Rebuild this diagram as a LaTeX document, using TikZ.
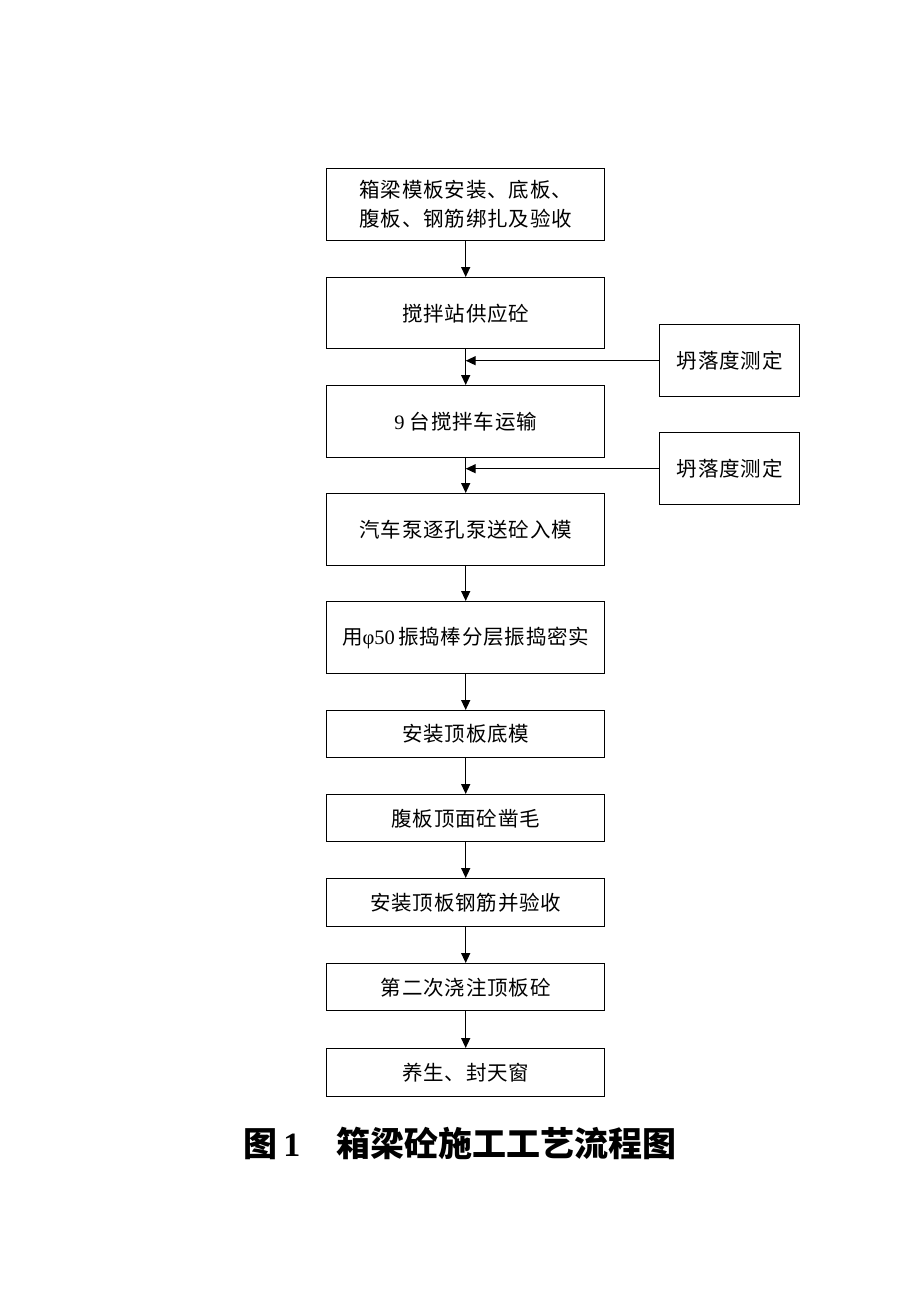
\documentclass[tikz,border=0pt]{standalone}
\usepackage{fontspec}
\setmainfont{Liberation Serif}
\newfontfamily\cjk{Noto Sans CJK SC}
\newfontfamily\cjkbox{Noto Sans CJK SC}[LetterSpace=4]
\usetikzlibrary{arrows.meta}
\begin{document}
\begin{tikzpicture}[x=1pt,y=-1pt,
  box/.style={draw,line width=1.4pt,minimum width=278pt,anchor=north west,inner sep=0pt,align=center,font=\fontsize{20.5}{29}\selectfont\cjkbox},
  sidebox/.style={draw,line width=1.4pt,minimum width=140pt,minimum height=72pt,anchor=north west,inner sep=0pt,align=center,font=\fontsize{20.5}{29}\selectfont\cjkbox},
  arr/.style={line width=1.4pt,-{Triangle[length=10pt,width=9pt]}},
  line/.style={line width=1.4pt}]
\useasboundingbox (0,0) rectangle (920,1302);
\node[box,minimum height=72pt] (b1) at (326,168) {箱梁模板安装、底板、\\腹板、钢筋绑扎及验收};
\node[box,minimum height=71pt] (b2) at (326,277) {搅拌站供应砼};
\node[box,minimum height=72pt] (b3) at (326,385) {\fontspec{Liberation Serif}9 {\cjkbox 台搅拌车运输}};
\node[box,minimum height=72pt] (b4) at (326,493) {汽车泵逐孔泵送砼入模};
\node[box,minimum height=72pt] (b5) at (326,601) {用{\fontspec{Liberation Serif}φ50\,}振捣棒分层振捣密实};
\node[box,minimum height=47pt] (b6) at (326,710) {安装顶板底模};
\node[box,minimum height=47pt] (b7) at (326,794) {腹板顶面砼凿毛};
\node[box,minimum height=48pt] (b8) at (326,878) {安装顶板钢筋并验收};
\node[box,minimum height=47pt] (b9) at (326,963) {第二次浇注顶板砼};
\node[box,minimum height=48pt] (b10) at (326,1048) {养生、封天窗};
\node[sidebox] (s1) at (659,324) {坍落度测定};
\node[sidebox] (s2) at (659,432) {坍落度测定};
\coordinate (j1) at (b2.south |- s1.west);
\coordinate (j2) at (b3.south |- s2.west);
\draw[arr] (b1.south) -- (b2.north);
\draw[arr] (b2.south) -- (b3.north);
\draw[arr] (b3.south) -- (b4.north);
\draw[arr] (s1.west) -- (j1);
\draw[arr] (s2.west) -- (j2);
\draw[arr] (b4.south) -- (b5.north);
\draw[arr] (b5.south) -- (b6.north);
\draw[arr] (b6.south) -- (b7.north);
\draw[arr] (b7.south) -- (b8.north);
\draw[arr] (b8.south) -- (b9.north);
\draw[arr] (b9.south) -- (b10.north);
\node[font=\fontsize{34}{40}\selectfont\bfseries] (cap) at (460,1143) {{\cjk 图}\,1\hspace{36pt}{\cjk 箱梁砼施工工艺流程图}};
\end{tikzpicture}
\end{document}
